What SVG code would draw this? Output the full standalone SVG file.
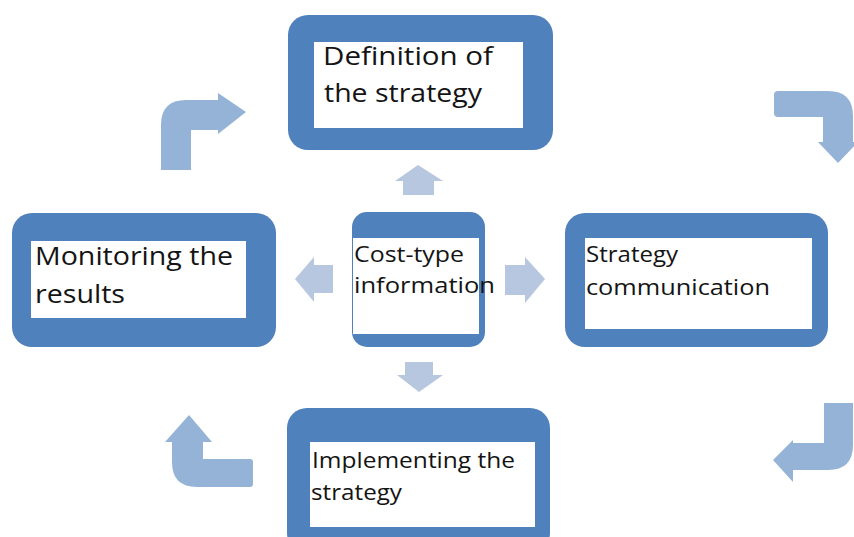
<svg xmlns="http://www.w3.org/2000/svg" width="854" height="537" viewBox="0 0 854 537">
<style>
.outer{fill:#4f81bd}
.inner{fill:#ffffff}
.t{font-family:"Open Sans","Liberation Sans",sans-serif;fill:#141414}
.big{font-size:26px}
.mid{font-size:22px}
.sm{font-size:21px}
.cyc{fill:#95b3d7}
.rad{fill:#b7c7df}
</style>
<rect width="854" height="537" fill="#ffffff"/>
<g id="connectors">
<path class="cyc" d="M161,170 L161,125 Q161,100 186,100 L218,100 L218,93 L246,112 L218,134 L218,130 L191,130 L191,170 Z"/>
<path class="cyc" d="M774,95 Q774,91 778,91 L828,91 Q853,91 853,116 L853,142 L858,142 L838,163 L818,142 L823,142 L823,117 L778,117 Q774,117 774,113 Z"/>
<path class="cyc" d="M189,415 L212,442 L203,442 L203,459 L250,459 Q253,459 253,462 L253,484 Q253,487 250,487 L197,487 Q172,487 172,462 L172,442 L165,442 Z"/>
<path class="cyc" d="M824,403 L853,403 L853,445 Q853,470 828,470 L793,470 L793,482 L773,460 L793,440 L793,443 L824,443 Z"/>
<path class="rad" d="M418,165 L443,181 L434,181 L434,195 L403,195 L403,181 L395,181 Z"/>
<path class="rad" d="M295,279 L314,257 L314,265 L333,265 L333,293 L314,293 L314,302 Z"/>
<path class="rad" d="M545,279 L525,257 L525,265 L505,265 L505,295 L525,295 L525,303 Z"/>
<path class="rad" d="M405,362 L433,362 L433,375 L443,375 L419,392 L397,375 L405,375 Z"/>
</g>
<g id="definition">
<rect class="outer" x="288" y="15" width="265" height="135" rx="20"/>
<rect class="inner" x="314" y="42" width="209" height="86"/>
<text class="t big" x="323" y="65" textLength="170" lengthAdjust="spacingAndGlyphs">Definition of</text>
<text class="t big" x="324" y="102" textLength="158" lengthAdjust="spacingAndGlyphs">the strategy</text>
</g>
<g id="monitoring">
<rect class="outer" x="12" y="213" width="264" height="134" rx="20"/>
<rect class="inner" x="31" y="241" width="215" height="77"/>
<text class="t big" x="35" y="265" textLength="198" lengthAdjust="spacingAndGlyphs">Monitoring the</text>
<text class="t big" x="35" y="303" textLength="90" lengthAdjust="spacingAndGlyphs">results</text>
</g>
<g id="costtype">
<rect class="outer" x="352" y="212" width="133" height="135" rx="15"/>
<rect class="inner" x="353" y="238" width="126" height="96"/>
<text class="t mid" x="354" y="262" textLength="110" lengthAdjust="spacingAndGlyphs">Cost-type</text>
<text class="t mid" x="354" y="293" textLength="141" lengthAdjust="spacingAndGlyphs">information</text>
</g>
<g id="communication">
<rect class="outer" x="565" y="213" width="263" height="134" rx="20"/>
<rect class="inner" x="585" y="238" width="227" height="91"/>
<text class="t sm" x="586" y="262" textLength="92" lengthAdjust="spacingAndGlyphs">Strategy</text>
<text class="t sm" x="586" y="295" textLength="184" lengthAdjust="spacingAndGlyphs">communication</text>
</g>
<g id="implementing">
<rect class="outer" x="287" y="408" width="263" height="145" rx="20"/>
<rect class="inner" x="310" y="442" width="225" height="85"/>
<text class="t sm" x="312" y="468" textLength="203" lengthAdjust="spacingAndGlyphs">Implementing the</text>
<text class="t sm" x="311" y="500" textLength="91" lengthAdjust="spacingAndGlyphs">strategy</text>
</g>
</svg>
